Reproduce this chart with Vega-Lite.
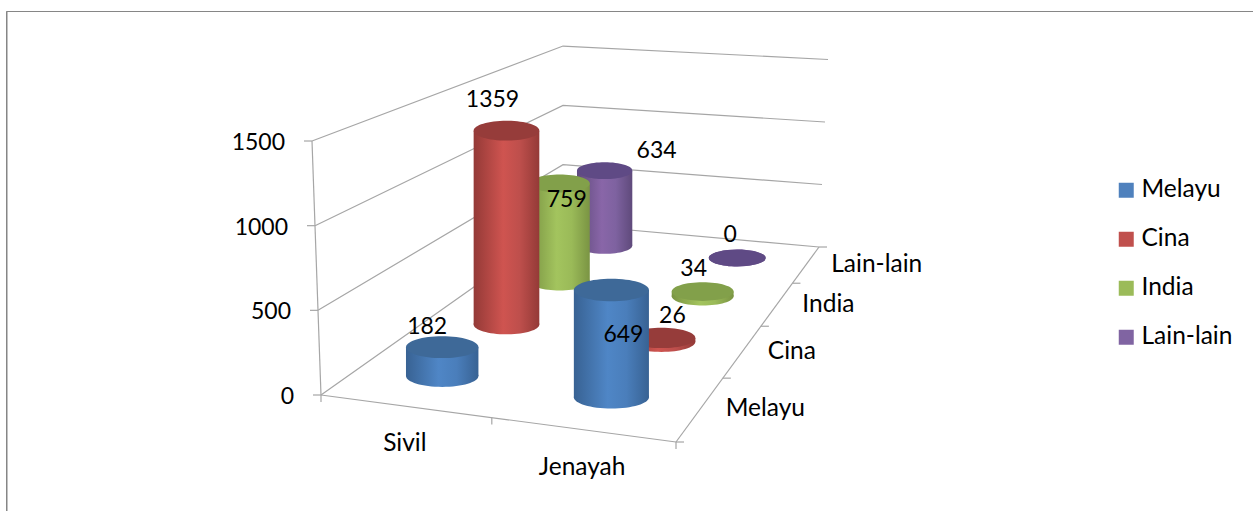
{"$schema":"https://vega.github.io/schema/vega-lite/v6.json","width":1260,"height":510,"autosize":"none","padding":{"left":6,"top":11,"right":0,"bottom":0},"background":"white","config":{"view":{"stroke":"#868686","strokeWidth":1},"font":"Lato"},
"data":{"values":[
{"category":"Sivil","series":"Melayu","value":182},{"category":"Sivil","series":"Cina","value":1359},{"category":"Sivil","series":"India","value":759},{"category":"Sivil","series":"Lain-lain","value":634},
{"category":"Jenayah","series":"Melayu","value":649},{"category":"Jenayah","series":"Cina","value":26},{"category":"Jenayah","series":"India","value":34},{"category":"Jenayah","series":"Lain-lain","value":0},
{"line":"wall-0","corner":"FL","value":0},{"line":"wall-0","corner":"BL","value":0},{"line":"wall-0","corner":"BR","value":0},
{"line":"wall-500","corner":"FL","value":500},{"line":"wall-500","corner":"BL","value":500},{"line":"wall-500","corner":"BR","value":500},
{"line":"wall-1000","corner":"FL","value":1000},{"line":"wall-1000","corner":"BL","value":1000},{"line":"wall-1000","corner":"BR","value":1000},
{"line":"wall-1500","corner":"FL","value":1500},{"line":"wall-1500","corner":"BL","value":1500},{"line":"wall-1500","corner":"BR","value":1500},
{"line":"front","corner":"FL","value":0},{"line":"front","corner":"FR","value":0},
{"line":"side","corner":"FR","value":0},{"line":"side","corner":"BR","value":0},
{"line":"axis","corner":"FL","value":0},{"line":"axis","corner":"FL","value":1500},
{"line":"tv0","tick":"val","value":0,"end":0},{"line":"tv0","tick":"val","value":0,"end":1},
{"line":"tv500","tick":"val","value":500,"end":0},{"line":"tv500","tick":"val","value":500,"end":1},
{"line":"tv1000","tick":"val","value":1000,"end":0},{"line":"tv1000","tick":"val","value":1000,"end":1},
{"line":"tv1500","tick":"val","value":1500,"end":0},{"line":"tv1500","tick":"val","value":1500,"end":1},
{"line":"tc0","tick":"cat","at":0,"end":0},{"line":"tc0","tick":"cat","at":0,"end":1},
{"line":"tc1","tick":"cat","at":1,"end":0},{"line":"tc1","tick":"cat","at":1,"end":1},
{"line":"tc2","tick":"cat","at":2,"end":0},{"line":"tc2","tick":"cat","at":2,"end":1},
{"line":"ts0","tick":"ser","at":0,"end":0},{"line":"ts0","tick":"ser","at":0,"end":1},
{"line":"ts1","tick":"ser","at":1,"end":0},{"line":"ts1","tick":"ser","at":1,"end":1},
{"line":"ts2","tick":"ser","at":2,"end":0},{"line":"ts2","tick":"ser","at":2,"end":1},
{"line":"ts3","tick":"ser","at":3,"end":0},{"line":"ts3","tick":"ser","at":3,"end":1},
{"line":"ts4","tick":"ser","at":4,"end":0},{"line":"ts4","tick":"ser","at":4,"end":1},
{"valueLabel":"0","tick":"val","value":0,"end":0},{"valueLabel":"500","tick":"val","value":500,"end":0},{"valueLabel":"1000","tick":"val","value":1000,"end":0},{"valueLabel":"1500","tick":"val","value":1500,"end":0},
{"catLabel":"Sivil","tick":"cat","at":0.5,"end":0},{"catLabel":"Jenayah","tick":"cat","at":1.5,"end":0},
{"serLabel":"Melayu","tick":"ser","at":0.5,"end":0},{"serLabel":"Cina","tick":"ser","at":1.5,"end":0},{"serLabel":"India","tick":"ser","at":2.5,"end":0},{"serLabel":"Lain-lain","tick":"ser","at":3.5,"end":0}
]},
"transform":[
{"calculate":"datum.corner ? ((datum.corner=='FL'||datum.corner=='BL') ? 0 : 1) : datum.category ? (datum.category=='Sivil'?0.25:0.75) : datum.tick=='cat' ? datum.at/2 : datum.tick=='ser' ? 1 : 0","as":"u"},
{"calculate":"datum.corner ? ((datum.corner=='BL'||datum.corner=='BR') ? 1 : 0) : datum.series ? (indexof(['Melayu','Cina','India','Lain-lain'],datum.series)+0.5)/4 : datum.tick=='ser' ? datum.at/4 : 0","as":"v"},
{"calculate":"1-0.07268*datum.u+0.42731*datum.v","as":"w"},
{"calculate":"(305.87*datum.u+482.58*datum.v+321)/datum.w","as":"fx"},
{"calculate":"(14.88*datum.u-75.28*datum.v+395)/datum.w","as":"fy"},
{"calculate":"datum.category ? datum.value*0.165/pow(datum.w,1.1) : (datum.value||0)*0.16933/datum.w","as":"h"},
{"calculate":"datum.fx+9*(datum.value||0)/1500*(datum.u+datum.v-1)+(datum.tick=='val'?-8*datum.end:datum.tick=='ser'?8*datum.end:0)","as":"gx"},
{"calculate":"datum.fy-datum.h+(datum.tick=='cat'?7*datum.end:0)","as":"gy"},
{"calculate":"datum.fy-datum.h","as":"top"},
{"calculate":"datum.fx-37.5/datum.w","as":"left"},
{"calculate":"datum.fx+37.5/datum.w","as":"right"},
{"calculate":"(75/datum.w)*(75/datum.w)","as":"disc"},
{"calculate":"datum.fx+({'MelayuSivil':-15,'CinaSivil':-14,'IndiaSivil':7,'Lain-lainSivil':52,'MelayuJenayah':12,'CinaJenayah':11,'IndiaJenayah':-9,'Lain-lainJenayah':-7})[datum.series+datum.category]","as":"lx"},
{"calculate":"datum.top+({'MelayuSivil':-20,'CinaSivil':-30.6,'IndiaSivil':16.5,'Lain-lainSivil':-19.7,'MelayuJenayah':44.8,'CinaJenayah':-22,'IndiaJenayah':-22.5,'Lain-lainJenayah':-23})[datum.series+datum.category]","as":"ly"}
],
"layer":[
{"transform":[{"filter":"datum.line=='wall-0'&&datum.corner=='FL'"}],"mark":{"type":"rule","color":"#868686"},"encoding":{"x":{"datum":7,"type":"quantitative","scale":{"domain":[6,1266],"nice":false,"zero":false},"axis":null}}},
{"transform":[{"filter":"datum.line"}],"mark":{"type":"line","color":"#A6A6A6","strokeWidth":1.2},"encoding":{"x":{"field":"gx","type":"quantitative","scale":{"domain":[6,1266],"nice":false,"zero":false},"axis":null},"y":{"field":"gy","type":"quantitative","scale":{"domain":[521,11],"nice":false,"zero":false},"axis":null},"detail":{"field":"line"}}},
{"transform":[{"filter":"datum.category"}],"mark":{"type":"point","filled":true,"size":1,"opacity":1},"encoding":{"x":{"field":"fx","type":"quantitative","scale":{"domain":[6,1266],"nice":false,"zero":false},"axis":null},"y":{"field":"fy","type":"quantitative","scale":{"domain":[521,11],"nice":false,"zero":false},"axis":null},"color":{"field":"series","type":"nominal","scale":{"domain":["Melayu","Cina","India","Lain-lain"],"range":["#4F81BD","#C0504D","#9BBB59","#8064A2"]},"legend":{"orient":"none","legendX":1108,"legendY":167,"title":null,"symbolType":"square","symbolSize":225,"symbolStrokeWidth":0,"symbolOpacity":1,"labelFont":"Lato","labelFontSize":24.5,"labelColor":"#000000","labelOffset":3,"rowPadding":24,"padding":0}}}},

{"transform":[{"filter":"datum.series=='Lain-lain'"}],"mark":{"type":"point","opacity":1,"strokeWidth":0,"shape":"M-1,0A1,0.3,0,1,1,1,0A1,0.3,0,1,1,-1,0Z","fill":{"gradient":"linear","x1":0,"y1":0,"x2":1,"y2":0,"stops":[{"offset":0,"color":"#5F4A7B"},{"offset":0.45,"color":"#8966A8"},{"offset":0.7,"color":"#7E62A0"},{"offset":1,"color":"#5F4A7B"}]}},"encoding":{"x":{"field":"fx","type":"quantitative","scale":{"domain":[6,1266],"nice":false,"zero":false},"axis":null},"y":{"field":"fy","type":"quantitative","scale":{"domain":[521,11],"nice":false,"zero":false},"axis":null},"size":{"field":"disc","type":"quantitative","scale":null}}},
{"transform":[{"filter":"datum.series=='Lain-lain'&&datum.value>0"}],"mark":{"type":"rect","fill":{"gradient":"linear","x1":0,"y1":0,"x2":1,"y2":0,"stops":[{"offset":0,"color":"#5F4A7B"},{"offset":0.45,"color":"#8966A8"},{"offset":0.7,"color":"#7E62A0"},{"offset":1,"color":"#5F4A7B"}]}},"encoding":{"x":{"field":"left","type":"quantitative","scale":{"domain":[6,1266],"nice":false,"zero":false},"axis":null},"x2":{"field":"right"},"y":{"field":"top","type":"quantitative","scale":{"domain":[521,11],"nice":false,"zero":false},"axis":null},"y2":{"field":"fy"}}},
{"transform":[{"filter":"datum.series=='Lain-lain'"}],"mark":{"type":"point","opacity":1,"strokeWidth":0,"filled":true,"color":"#5F4A85","shape":"M-1,0A1,0.3,0,1,1,1,0A1,0.3,0,1,1,-1,0Z"},"encoding":{"x":{"field":"fx","type":"quantitative","scale":{"domain":[6,1266],"nice":false,"zero":false},"axis":null},"y":{"field":"top","type":"quantitative","scale":{"domain":[521,11],"nice":false,"zero":false},"axis":null},"size":{"field":"disc","type":"quantitative","scale":null}}},

{"transform":[{"filter":"datum.series=='India'"}],"mark":{"type":"point","opacity":1,"strokeWidth":0,"shape":"M-1,0A1,0.3,0,1,1,1,0A1,0.3,0,1,1,-1,0Z","fill":{"gradient":"linear","x1":0,"y1":0,"x2":1,"y2":0,"stops":[{"offset":0,"color":"#7A9443"},{"offset":0.45,"color":"#A3C45E"},{"offset":0.7,"color":"#9ABA58"},{"offset":1,"color":"#7A9443"}]}},"encoding":{"x":{"field":"fx","type":"quantitative","scale":{"domain":[6,1266],"nice":false,"zero":false},"axis":null},"y":{"field":"fy","type":"quantitative","scale":{"domain":[521,11],"nice":false,"zero":false},"axis":null},"size":{"field":"disc","type":"quantitative","scale":null}}},
{"transform":[{"filter":"datum.series=='India'"}],"mark":{"type":"rect","fill":{"gradient":"linear","x1":0,"y1":0,"x2":1,"y2":0,"stops":[{"offset":0,"color":"#7A9443"},{"offset":0.45,"color":"#A3C45E"},{"offset":0.7,"color":"#9ABA58"},{"offset":1,"color":"#7A9443"}]}},"encoding":{"x":{"field":"left","type":"quantitative","scale":{"domain":[6,1266],"nice":false,"zero":false},"axis":null},"x2":{"field":"right"},"y":{"field":"top","type":"quantitative","scale":{"domain":[521,11],"nice":false,"zero":false},"axis":null},"y2":{"field":"fy"}}},
{"transform":[{"filter":"datum.series=='India'"}],"mark":{"type":"point","opacity":1,"strokeWidth":0,"filled":true,"color":"#82A04A","shape":"M-1,0A1,0.3,0,1,1,1,0A1,0.3,0,1,1,-1,0Z"},"encoding":{"x":{"field":"fx","type":"quantitative","scale":{"domain":[6,1266],"nice":false,"zero":false},"axis":null},"y":{"field":"top","type":"quantitative","scale":{"domain":[521,11],"nice":false,"zero":false},"axis":null},"size":{"field":"disc","type":"quantitative","scale":null}}},

{"transform":[{"filter":"datum.series=='Cina'"}],"mark":{"type":"point","opacity":1,"strokeWidth":0,"shape":"M-1,0A1,0.3,0,1,1,1,0A1,0.3,0,1,1,-1,0Z","fill":{"gradient":"linear","x1":0,"y1":0,"x2":1,"y2":0,"stops":[{"offset":0,"color":"#943A37"},{"offset":0.45,"color":"#CF5450"},{"offset":0.7,"color":"#BE4F4C"},{"offset":1,"color":"#943A37"}]}},"encoding":{"x":{"field":"fx","type":"quantitative","scale":{"domain":[6,1266],"nice":false,"zero":false},"axis":null},"y":{"field":"fy","type":"quantitative","scale":{"domain":[521,11],"nice":false,"zero":false},"axis":null},"size":{"field":"disc","type":"quantitative","scale":null}}},
{"transform":[{"filter":"datum.series=='Cina'"}],"mark":{"type":"rect","fill":{"gradient":"linear","x1":0,"y1":0,"x2":1,"y2":0,"stops":[{"offset":0,"color":"#943A37"},{"offset":0.45,"color":"#CF5450"},{"offset":0.7,"color":"#BE4F4C"},{"offset":1,"color":"#943A37"}]}},"encoding":{"x":{"field":"left","type":"quantitative","scale":{"domain":[6,1266],"nice":false,"zero":false},"axis":null},"x2":{"field":"right"},"y":{"field":"top","type":"quantitative","scale":{"domain":[521,11],"nice":false,"zero":false},"axis":null},"y2":{"field":"fy"}}},
{"transform":[{"filter":"datum.series=='Cina'"}],"mark":{"type":"point","opacity":1,"strokeWidth":0,"filled":true,"color":"#963C3A","shape":"M-1,0A1,0.3,0,1,1,1,0A1,0.3,0,1,1,-1,0Z"},"encoding":{"x":{"field":"fx","type":"quantitative","scale":{"domain":[6,1266],"nice":false,"zero":false},"axis":null},"y":{"field":"top","type":"quantitative","scale":{"domain":[521,11],"nice":false,"zero":false},"axis":null},"size":{"field":"disc","type":"quantitative","scale":null}}},

{"transform":[{"filter":"datum.series=='Melayu'"}],"mark":{"type":"point","opacity":1,"strokeWidth":0,"shape":"M-1,0A1,0.3,0,1,1,1,0A1,0.3,0,1,1,-1,0Z","fill":{"gradient":"linear","x1":0,"y1":0,"x2":1,"y2":0,"stops":[{"offset":0,"color":"#386293"},{"offset":0.45,"color":"#4F86C6"},{"offset":0.7,"color":"#4A7EBB"},{"offset":1,"color":"#386293"}]}},"encoding":{"x":{"field":"fx","type":"quantitative","scale":{"domain":[6,1266],"nice":false,"zero":false},"axis":null},"y":{"field":"fy","type":"quantitative","scale":{"domain":[521,11],"nice":false,"zero":false},"axis":null},"size":{"field":"disc","type":"quantitative","scale":null}}},
{"transform":[{"filter":"datum.series=='Melayu'"}],"mark":{"type":"rect","fill":{"gradient":"linear","x1":0,"y1":0,"x2":1,"y2":0,"stops":[{"offset":0,"color":"#386293"},{"offset":0.45,"color":"#4F86C6"},{"offset":0.7,"color":"#4A7EBB"},{"offset":1,"color":"#386293"}]}},"encoding":{"x":{"field":"left","type":"quantitative","scale":{"domain":[6,1266],"nice":false,"zero":false},"axis":null},"x2":{"field":"right"},"y":{"field":"top","type":"quantitative","scale":{"domain":[521,11],"nice":false,"zero":false},"axis":null},"y2":{"field":"fy"}}},
{"transform":[{"filter":"datum.series=='Melayu'"}],"mark":{"type":"point","opacity":1,"strokeWidth":0,"filled":true,"color":"#3E6998","shape":"M-1,0A1,0.3,0,1,1,1,0A1,0.3,0,1,1,-1,0Z"},"encoding":{"x":{"field":"fx","type":"quantitative","scale":{"domain":[6,1266],"nice":false,"zero":false},"axis":null},"y":{"field":"top","type":"quantitative","scale":{"domain":[521,11],"nice":false,"zero":false},"axis":null},"size":{"field":"disc","type":"quantitative","scale":null}}},

{"transform":[{"filter":"datum.category"}],"mark":{"type":"text","font":"Lato","fontSize":23,"color":"#000000","baseline":"middle","align":"center"},"encoding":{"x":{"field":"lx","type":"quantitative","scale":{"domain":[6,1266],"nice":false,"zero":false},"axis":null},"y":{"field":"ly","type":"quantitative","scale":{"domain":[521,11],"nice":false,"zero":false},"axis":null},"text":{"field":"value","type":"nominal"}}},
{"transform":[{"filter":"datum.valueLabel"}],"mark":{"type":"text","font":"Lato","fontSize":23,"color":"#000000","baseline":"middle","align":"right","dx":-27,"dy":2},"encoding":{"x":{"field":"gx","type":"quantitative","scale":{"domain":[6,1266],"nice":false,"zero":false},"axis":null},"y":{"field":"gy","type":"quantitative","scale":{"domain":[521,11],"nice":false,"zero":false},"axis":null},"text":{"field":"valueLabel"}}},
{"transform":[{"filter":"datum.catLabel"}],"mark":{"type":"text","font":"Lato","fontSize":24.5,"color":"#000000","baseline":"middle","align":"center","dy":38},"encoding":{"x":{"field":"gx","type":"quantitative","scale":{"domain":[6,1266],"nice":false,"zero":false},"axis":null},"y":{"field":"gy","type":"quantitative","scale":{"domain":[521,11],"nice":false,"zero":false},"axis":null},"text":{"field":"catLabel"}}},
{"transform":[{"filter":"datum.serLabel"}],"mark":{"type":"text","font":"Lato","fontSize":24.5,"color":"#000000","baseline":"middle","align":"left","dx":25,"dy":1},"encoding":{"x":{"field":"gx","type":"quantitative","scale":{"domain":[6,1266],"nice":false,"zero":false},"axis":null},"y":{"field":"gy","type":"quantitative","scale":{"domain":[521,11],"nice":false,"zero":false},"axis":null},"text":{"field":"serLabel"}}}
]}
